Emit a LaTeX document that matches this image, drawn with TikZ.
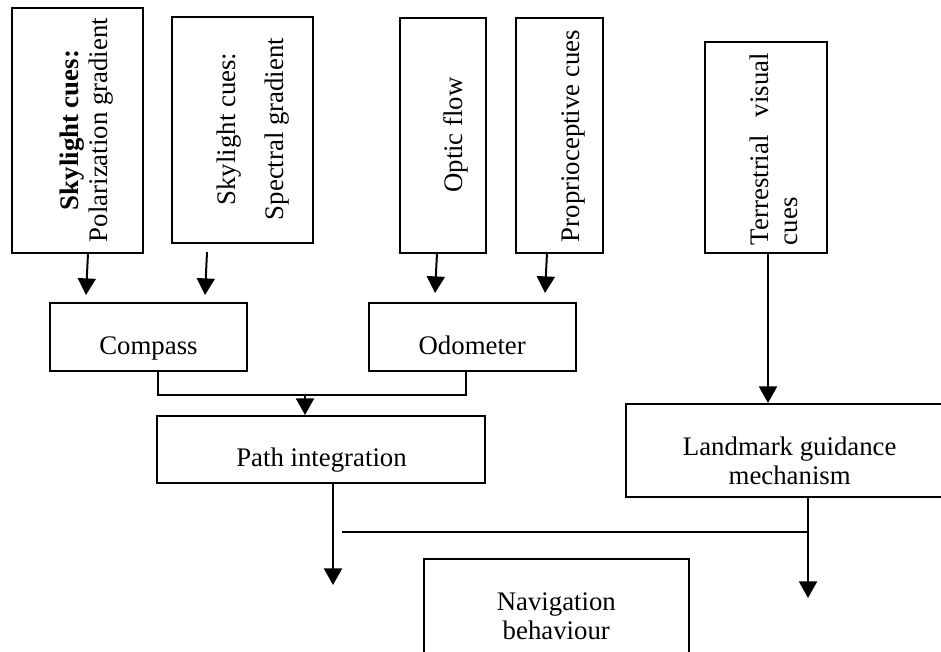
\documentclass[tikz,border=0pt]{standalone}
\usepackage{fontspec}
\setmainfont{Liberation Serif}
\usetikzlibrary{arrows.meta}
\begin{document}
\begin{tikzpicture}[x=0.5pt,y=-0.5pt,
  box/.style={draw, line width=1pt, inner sep=0pt, rectangle},
  txt/.style={font=\fontsize{13.4}{14.5}\selectfont, inner sep=0pt},
  arr/.style={line width=1pt, -{Triangle[width=9pt,length=8.3pt]}},
  conn/.style={line width=0.8pt}]
\useasboundingbox (0,0) rectangle (941,652);
\fill[white] (0,0) rectangle (941,652);

% top input boxes
\node[box, minimum width=65.5pt, minimum height=122.5pt] (sky1) at (77.5,130.5) {};
\node[txt, rotate=90, align=center] (sky1t) at (86.3,130) {\textbf{Skylight cues:}\\Polarization gradient};

\node[box, minimum width=70.5pt, minimum height=113pt] (sky2) at (242.5,130) {};
\node[txt, font=\fontsize{13.4}{24}\selectfont, rotate=90, align=center] (sky2t) at (252.8,129) {Skylight cues:\\Spectral gradient};

\node[box, minimum width=43pt, minimum height=117.5pt] (optic) at (443,135.5) {};
\node[txt, rotate=90] (optict) at (455.8,135) {Optic flow};

\node[box, minimum width=43.5pt, minimum height=117.5pt] (prop) at (559.5,135.5) {};
\node[txt, rotate=90] (propt) at (573.8,136) {Proprioceptive cues};

\node[box, minimum width=61pt, minimum height=105.5pt] (terr) at (766,147.5) {};
\node[txt, rotate=90, align=left] (terrt) at (773.9,149) {\hbox to 96pt{Terrestrial\hfill visual}\\cues};

% middle boxes
\node[box, minimum width=98.5pt, minimum height=34pt] (compass) at (148.5,337) {};
\node[txt, anchor=base] (compasst) at (148.5,354) {Compass};

\node[box, minimum width=103.5pt, minimum height=34pt] (odo) at (472.5,337) {};
\node[txt, anchor=base] (odot) at (472.2,354) {Odometer};

\node[box, minimum width=164pt, minimum height=33.5pt] (path) at (321,449.5) {};
\node[txt, anchor=base] (patht) at (321.5,466.7) {Path integration};

\node[box, minimum width=164pt, minimum height=46.5pt] (land) at (790,450.5) {};
\node[txt, align=center] (landt) at (789.7,460.75) {Landmark guidance\\mechanism};

\node[box, minimum width=132.5pt, minimum height=65.5pt] (nav) at (556.5,624.5) {};
\node[txt, align=center] (navt) at (556.3,616.25) {Navigation\\behaviour};

% arrows from input boxes
\coordinate (a1s) at (88,253);  \coordinate (a1e) at (86,295);
\coordinate (a2s) at (207,252); \coordinate (a2e) at (205,295);
\coordinate (a3s) at (437,253); \coordinate (a3e) at (435,293);
\coordinate (a4s) at (547,253); \coordinate (a4e) at (545,293);
\draw[arr] (a1s) -- (a1e);
\draw[arr] (a2s) -- (a2e);
\draw[arr] (a3s) -- (a3e);
\draw[arr] (a4s) -- (a4e);

% compass + odometer -> path integration
\coordinate (j1) at (158,395);
\coordinate (j2) at (466,395);
\coordinate (pin) at (305,395);
\draw[conn] (compass.south -| j1) -- (j1) -- (j2) -- (odo.south -| j2);
\draw[arr] (pin) -- (path.north -| pin);

% terrestrial -> landmark
\coordinate (tx) at (768,0);
\draw[arr] (terr.south -| tx) -- (land.north -| tx);

% outputs
\coordinate (pd) at (333,585);
\coordinate (ld) at (808,598);
\coordinate (h1) at (342,532);
\draw[arr] (path.south -| pd) -- (pd);
\draw[arr] (land.south -| ld) -- (ld);
\draw[conn] (h1) -- (h1 -| ld);
\end{tikzpicture}
\end{document}
